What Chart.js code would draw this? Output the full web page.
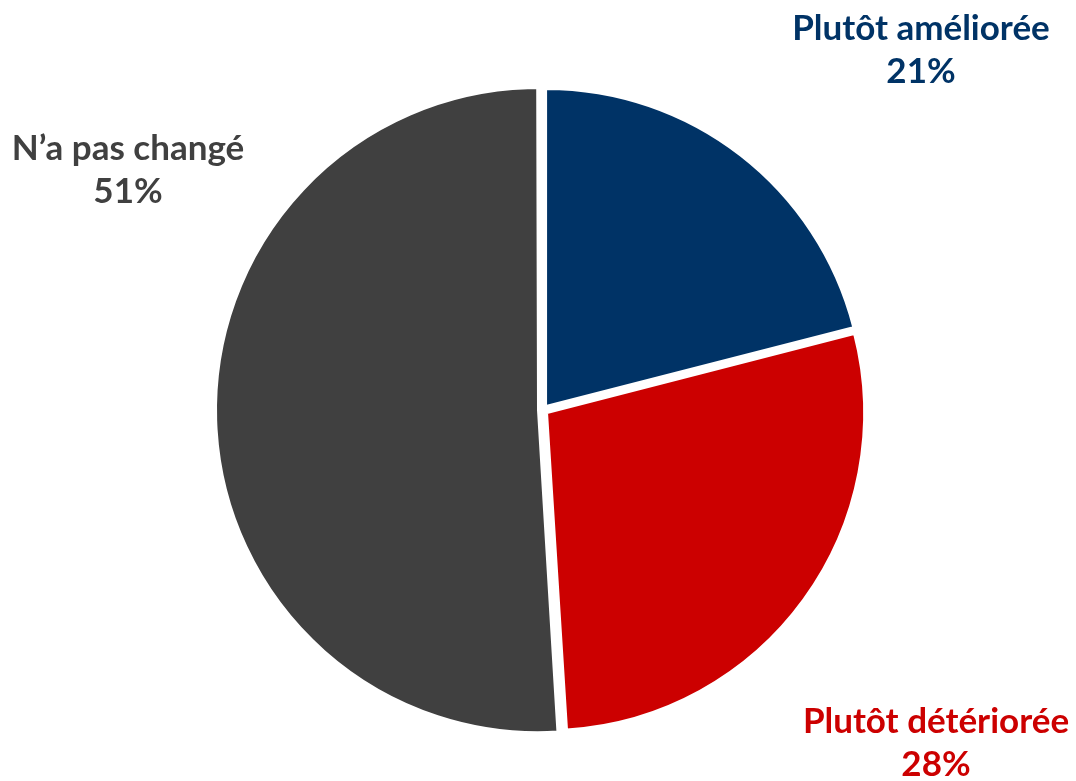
<!DOCTYPE html>
<html>
<head>
<meta charset="utf-8">
<script src="https://cdn.jsdelivr.net/npm/chart.js@4.4.1/dist/chart.umd.min.js"></script>
<style>
  html, body { margin: 0; padding: 0; background: #fff; }
  #wrap { width: 1076px; height: 781px; position: relative; }
</style>
</head>
<body>
<div id="wrap"><canvas id="pieChart"></canvas></div>
<script>
// data
const categories = ["Plutôt améliorée", "Plutôt détériorée", "N\u2019a pas changé"];
const shares = [21, 28, 51];
const sliceColors = ["#003366", "#CC0000", "#404040"];

// where each label sits (centre x, baseline of first line)
const labelSpots = [
  { x: 921, y: 40 },
  { x: 936, y: 733 },
  { x: 128, y: 160 }
];

const outsideLabels = {
  id: "outsideLabels",
  afterDraw(chart) {
    const ctx = chart.ctx;
    ctx.save();
    ctx.font = "bold 35px Lato";
    ctx.textAlign = "center";
    ctx.textBaseline = "alphabetic";
    categories.forEach((name, i) => {
      const spot = labelSpots[i];
      ctx.fillStyle = sliceColors[i];
      ctx.fillText(name, spot.x, spot.y);
      ctx.fillText(shares[i] + "%", spot.x, spot.y + 43);
    });
    ctx.restore();
  }
};

new Chart(document.getElementById("pieChart"), {
  type: "pie",
  data: {
    labels: categories,
    datasets: [{
      data: shares,
      backgroundColor: sliceColors,
      borderColor: "#ffffff",
      borderWidth: 2,
      offset: 20, // chart.js draws offset/4 px outward
      radius: 317
    }]
  },
  options: {
    responsive: true,
    maintainAspectRatio: false,
    animation: false,
    layout: { padding: { left: 10, right: 0, top: 39, bottom: 0 } },
    plugins: {
      legend: { display: false },
      tooltip: { enabled: false }
    }
  },
  plugins: [outsideLabels]
});
</script>
</body>
</html>
